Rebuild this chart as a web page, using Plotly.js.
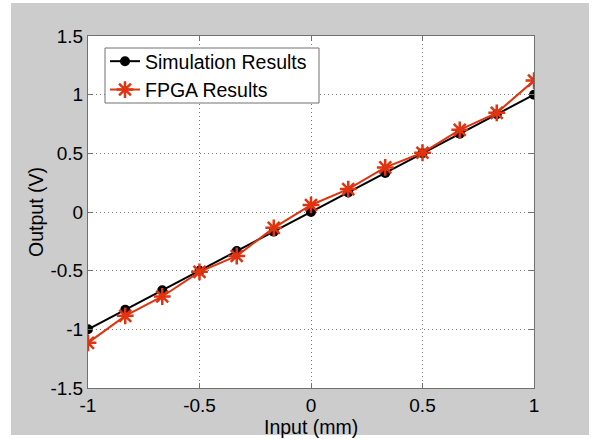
<!DOCTYPE html>
<html>
<head>
<meta charset="utf-8">
<script src="https://cdn.plot.ly/plotly-3.0.1.min.js"></script>
<style>
  html, body { margin: 0; padding: 0; background: #ffffff; width: 595px; height: 439px; overflow: hidden; }
  #chart { position: absolute; left: 0; top: 0; width: 595px; height: 439px; }
</style>
</head>
<body>
<div id="chart"></div>
<script>
var inputMm = [-1, -0.833, -0.667, -0.5, -0.333, -0.167, 0, 0.167, 0.333, 0.5, 0.667, 0.833, 1];
var simulationResults = [-1, -0.833, -0.667, -0.5, -0.333, -0.167, 0, 0.167, 0.333, 0.5, 0.667, 0.833, 1];
var fpgaResults = [-1.115, -0.885, -0.72, -0.51, -0.375, -0.135, 0.06, 0.195, 0.38, 0.505, 0.70, 0.845, 1.12];
var xTicks = [-1, -0.5, 0, 0.5, 1];
var xTickText = ['-1', '-0.5', '0', '0.5', '1'];
var yTicks = [-1.5, -1, -0.5, 0, 0.5, 1, 1.5];
var yTickText = ['-1.5', '-1', '-0.5', '0', '0.5', '1', '1.5'];

var font = 'Liberation Sans, Arial, sans-serif';
var fs = 19.5;
var traces = [
  {
    x: inputMm, y: simulationResults, name: 'Simulation Results',
    type: 'scatter', mode: 'lines+markers',
    line: { color: '#000000', width: 2 },
    marker: { symbol: 'circle', size: 10, color: '#000000' }
  },
  {
    x: inputMm, y: fpgaResults, name: 'FPGA Results',
    type: 'scatter', mode: 'lines+markers',
    line: { color: '#e0330f', width: 2 },
    marker: { symbol: 'asterisk-open', size: 14, color: '#e0330f', line: { color: '#e0330f', width: 2.5 } }
  }
];

var axisCommon = {
  showline: true, linecolor: '#707070', linewidth: 1, mirror: 'ticks',
  ticks: 'inside', ticklen: 5, tickcolor: '#707070', tickwidth: 1,
  showgrid: true, gridcolor: '#7a7a7a', griddash: '1px,3px', gridwidth: 1,
  zeroline: false, tickfont: { family: font, size: 19, color: '#000000' },
  tickmode: 'array'
};

// plot area in page pixels: x 88..534, y 36..388 (446 x 352)
var W = 446, H = 352;
function px(x) { return (x - 88) / W; }
function py(y) { return (388 - y) / H; }
var white = { color: 'rgba(0,0,0,0)', width: 0 };

var layout = {
  width: 595, height: 439,
  margin: { l: 88, r: 61, t: 36, b: 51, pad: 0 },
  paper_bgcolor: '#cccccc', plot_bgcolor: '#ffffff',
  font: { family: font, size: fs, color: '#000000' },
  showlegend: true,
  legend: {
    x: px(105), y: py(42), xanchor: 'left', yanchor: 'top',
    bgcolor: 'rgba(0,0,0,0)', borderwidth: 0,
    font: { family: font, size: fs, color: '#000000' },
    tracegroupgap: 0, itemwidth: 30
  },
  shapes: [
    // white page border around the grey figure
    { type: 'rect', xref: 'paper', yref: 'paper', x0: px(0), x1: px(11), y0: py(439), y1: py(0), fillcolor: '#ffffff', line: white, layer: 'below' },
    { type: 'rect', xref: 'paper', yref: 'paper', x0: px(589), x1: px(595), y0: py(439), y1: py(0), fillcolor: '#ffffff', line: white, layer: 'below' },
    { type: 'rect', xref: 'paper', yref: 'paper', x0: px(0), x1: px(595), y0: py(3), y1: py(0), fillcolor: '#ffffff', line: white, layer: 'below' },
    { type: 'rect', xref: 'paper', yref: 'paper', x0: px(0), x1: px(595), y0: py(439), y1: py(435), fillcolor: '#ffffff', line: white, layer: 'below' },
    // legend box
    { type: 'rect', xref: 'paper', yref: 'paper', x0: px(105), x1: px(319), y0: py(103), y1: py(48),
      fillcolor: '#ffffff', line: { color: '#707070', width: 1 }, layer: 'above' }
  ],
  annotations: [
    { text: 'Input (mm)', xref: 'paper', yref: 'paper', x: 0.5, y: py(415),
      xanchor: 'center', yanchor: 'top', showarrow: false, borderpad: 0,
      font: { family: font, size: fs, color: '#000000' } }
  ],
  xaxis: Object.assign({}, axisCommon, {
    range: [-1, 1], tickvals: xTicks, ticktext: xTickText
  }),
  yaxis: Object.assign({}, axisCommon, {
    range: [-1.5, 1.5], tickvals: yTicks, ticktext: yTickText,
    title: { text: 'Output (V)', font: { family: font, size: fs, color: '#000000' }, standoff: 1 }
  })
};

Plotly.newPlot('chart', traces, layout, { displayModeBar: false, staticPlot: true });
</script>
</body>
</html>
